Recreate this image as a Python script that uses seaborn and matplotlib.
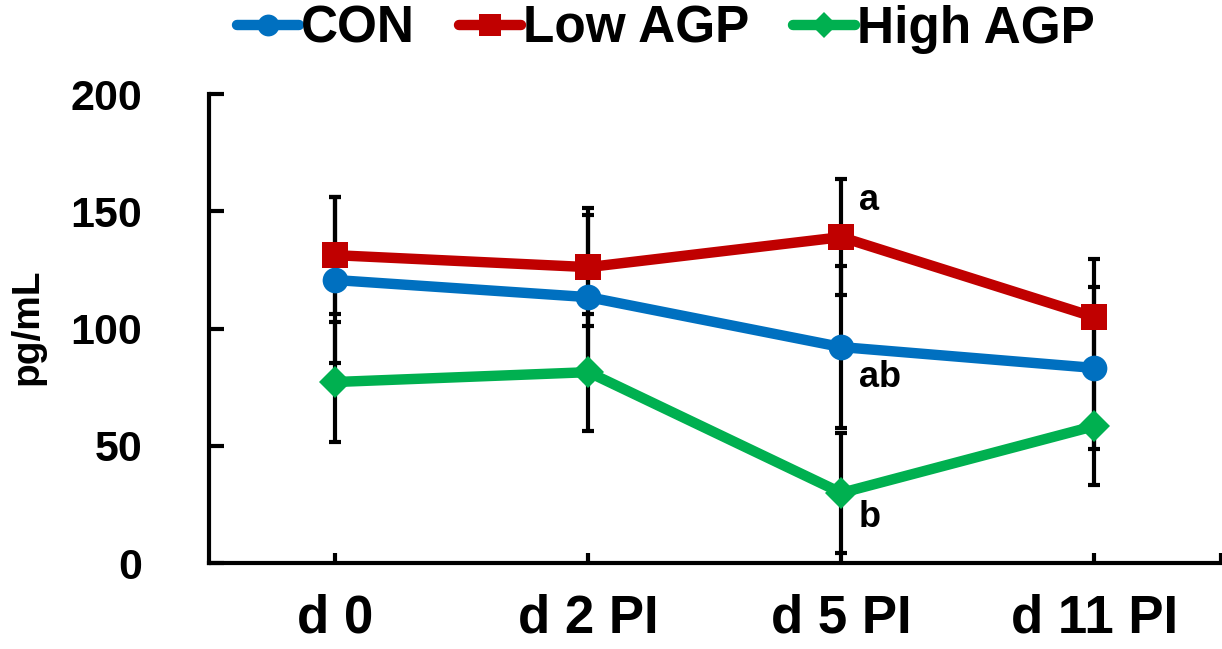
import matplotlib
matplotlib.use("Agg")
import matplotlib.pyplot as plt
import seaborn as sns
import pandas as pd
import numpy as np
from matplotlib.lines import Line2D

days = ["d 0", "d 2 PI", "d 5 PI", "d 11 PI"]
groups = ["CON", "Low AGP", "High AGP"]
con_mean = [120.7, 113.4, 92.1, 83.2]
low_mean = [131.3, 126.2, 139.0, 104.9]
high_mean = [77.2, 81.4, 29.9, 58.4]
con_sd = [35.2, 35.2, 34.5, 34.5]
low_sd = [24.9, 25.2, 24.7, 24.7]
high_sd = [25.6, 24.9, 25.6, 25.2]
letters = ["a", "ab", "b"]
letter_y = [154.8, 79.3, 19.2]
yticks = [0, 50, 100, 150, 200]

colors = {"CON": "#0070C0", "Low AGP": "#C00000", "High AGP": "#00B050"}
markers = {"CON": "o", "Low AGP": "s", "High AGP": "D"}
msizes = {"CON": 18.5, "Low AGP": 19, "High AGP": 16}

means = {"CON": con_mean, "Low AGP": low_mean, "High AGP": high_mean}
sds = {"CON": con_sd, "Low AGP": low_sd, "High AGP": high_sd}

rows = []
for g in groups:
    for d, m, s in zip(days, means[g], sds[g]):
        rows.append({"day": d, "group": g, "value": m, "sd": s})
df = pd.DataFrame(rows)

sns.set_theme(style="white")
plt.rcParams["font.family"] = ["Liberation Sans", "DejaVu Sans"]
plt.rcParams["font.weight"] = "bold"
plt.rcParams["text.color"] = "black"
plt.rcParams["axes.labelcolor"] = "black"
plt.rcParams["xtick.color"] = "black"
plt.rcParams["ytick.color"] = "black"

fig = plt.figure(figsize=(12.22, 6.49), dpi=100)
ax = fig.add_axes([0.171, 0.1325, 0.828, 0.7225])

xpos = np.arange(len(days))
# error bars behind the lines
for g in groups:
    ax.errorbar(xpos, means[g], yerr=sds[g], fmt="none", ecolor="black",
                elinewidth=3, capsize=4.5, capthick=3, zorder=1)

for g in groups:
    sub = df[df["group"] == g]
    sns.lineplot(data=sub, x="day", y="value", ax=ax, color=colors[g],
                 marker=markers[g], markersize=msizes[g], markeredgewidth=0,
                 linewidth=7.5, sort=False, errorbar=None, legend=False, zorder=3)

for t, yv in zip(letters, letter_y):
    ax.text(2.07, yv, t, fontsize=26, fontweight="bold", ha="left", va="center", color="black")

ax.set_xlim(-0.5, 3.5)
ax.set_ylim(0, 200)
ax.set_yticks(yticks)
ax.set_yticklabels([str(v) for v in yticks], fontsize=31, fontweight="bold")
ax.set_xticks(xpos)
ax.set_xticklabels(days, fontsize=38, fontweight="bold")
ax.set_xticks([3.5], minor=True)
ax.set_xlabel("")
ax.set_ylabel("pg/mL", fontsize=28, fontweight="bold")
ax.yaxis.set_label_coords(-0.162, 0.503)

for side in ["top", "right"]:
    ax.spines[side].set_visible(False)
for side in ["left", "bottom"]:
    ax.spines[side].set_color("black")
    ax.spines[side].set_linewidth(3)
ax.tick_params(axis="y", left=True, direction="in", length=11, width=3, color="black", pad=48)
ax.tick_params(axis="x", which="both", bottom=True, direction="in", length=7, width=3,
               color="black", pad=22)

handles = [Line2D([0], [0], color=colors[g], marker=markers[g], linewidth=7.5,
                  markersize=msizes[g] * 0.85, markeredgewidth=0) for g in groups]
fig.legend(handles, groups, loc="center", bbox_to_anchor=(0.545, 0.955), ncol=3,
           frameon=False, prop={"size": 37, "weight": "bold"}, handlelength=1.2,
           handletextpad=0.05, columnspacing=0.85, borderaxespad=0)

fig.savefig("out.png", dpi=100)
